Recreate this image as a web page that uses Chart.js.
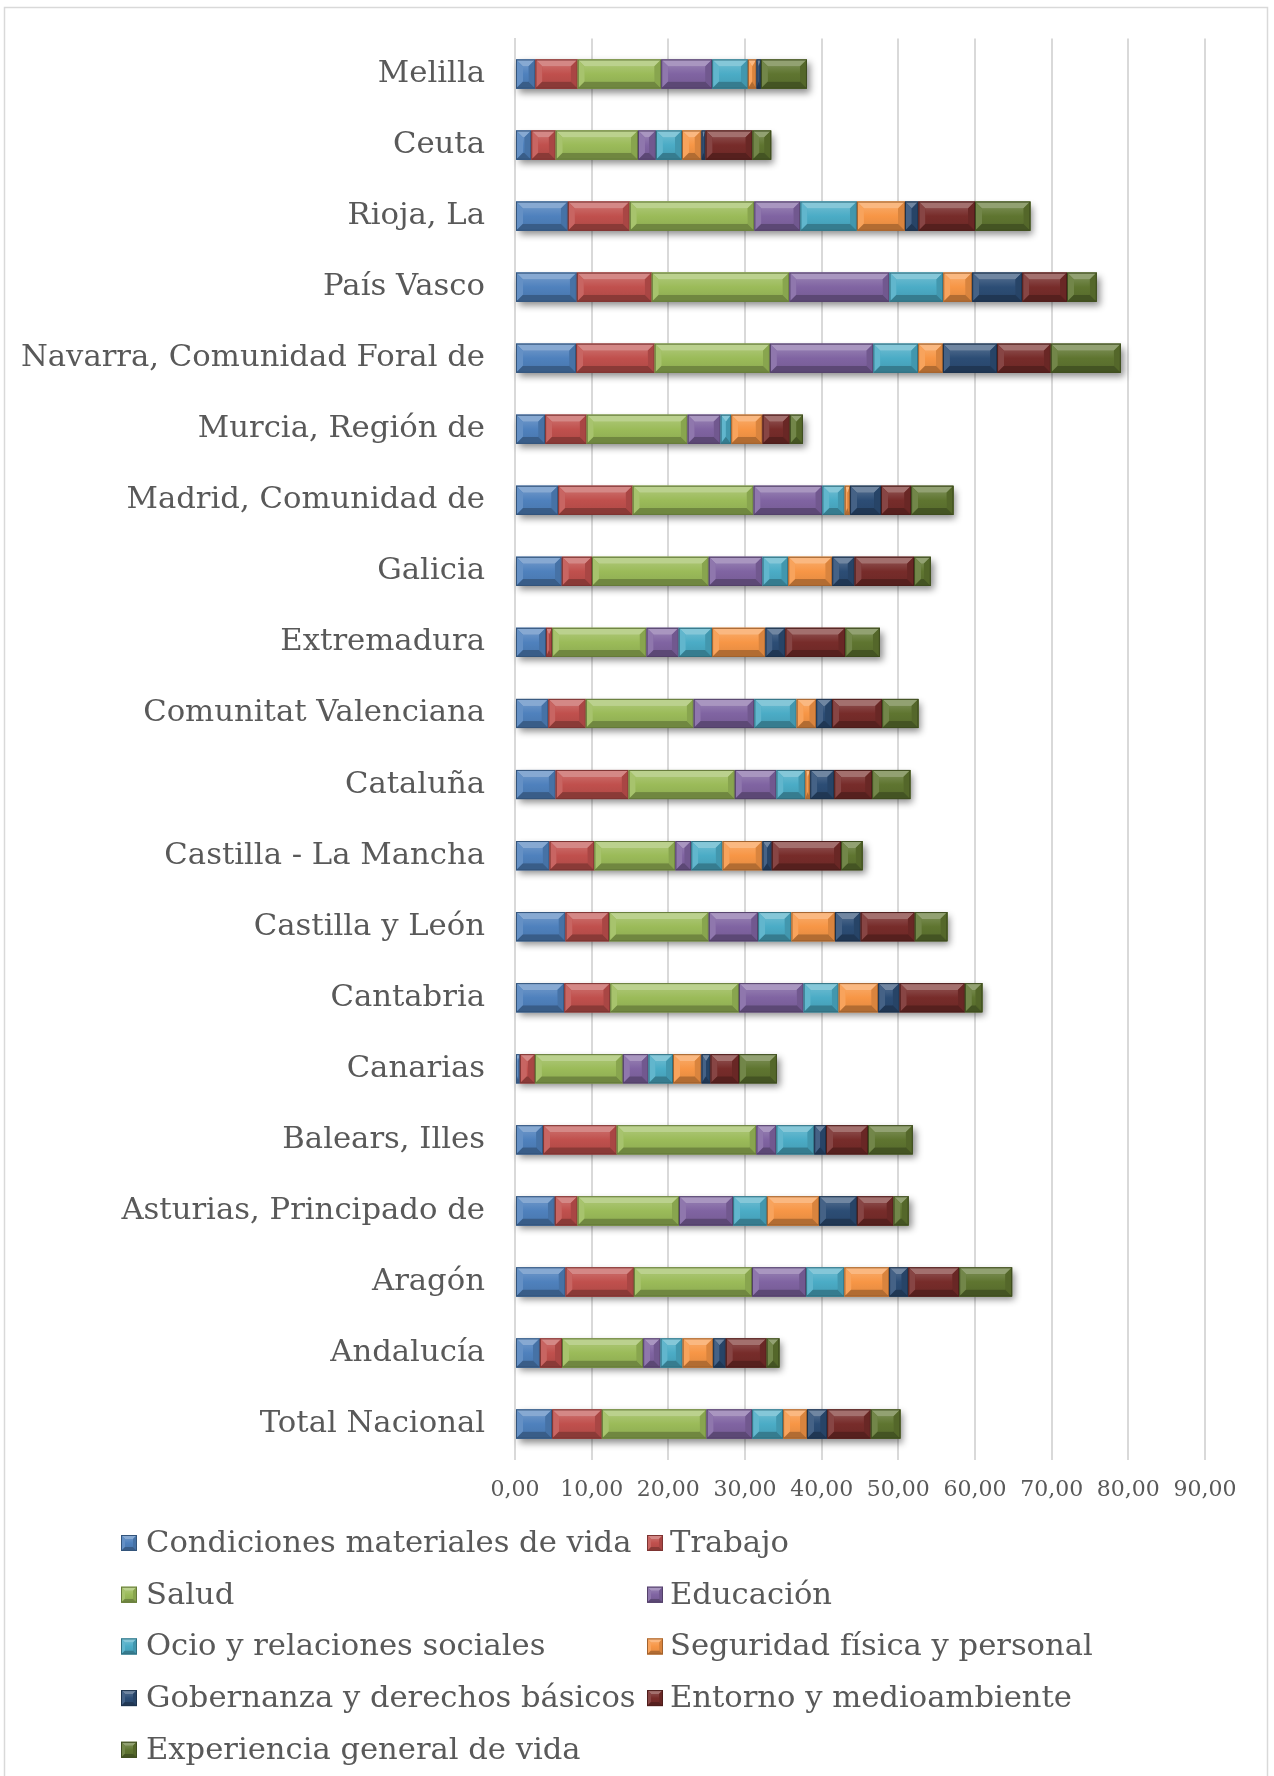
<!DOCTYPE html>
<html><head><meta charset="utf-8">
<script src="https://cdn.jsdelivr.net/npm/chart.js@4.4.1/dist/chart.umd.min.js"></script>
<style>html,body{margin:0;padding:0;background:#fff;}#wrap{position:relative;width:1274px;height:1776px;}</style>
</head><body><div id="wrap"><canvas id="c" width="1274" height="1776"></canvas></div>
<script>
const categories = ['Melilla','Ceuta','Rioja, La','País Vasco','Navarra, Comunidad Foral de','Murcia, Región de','Madrid, Comunidad de','Galicia','Extremadura','Comunitat Valenciana','Cataluña','Castilla - La Mancha','Castilla y León','Cantabria','Canarias','Balears, Illes','Asturias, Principado de','Aragón','Andalucía','Total Nacional'];
const seriesNames = ['Condiciones materiales de vida','Trabajo','Salud','Educación','Ocio y relaciones sociales','Seguridad física y personal','Gobernanza y derechos básicos','Entorno y medioambiente','Experiencia general de vida'];
const condiciones = [2.66,2.12,6.90,8.07,7.97,3.93,5.63,6.11,4.04,4.35,5.31,4.51,6.59,6.43,0.64,3.66,5.20,6.59,3.25,4.84];
const trabajo     = [5.52,3.19,8.07,9.77,10.25,5.42,9.72,3.93,0.80,4.89,9.51,5.84,5.68,6.00,1.96,9.61,2.97,8.92,2.88,6.49];
const salud       = [10.89,10.73,16.25,17.95,15.03,13.17,15.77,15.24,12.32,14.07,13.86,10.57,13.01,16.78,11.47,18.22,13.22,15.40,10.59,13.66];
const educacion   = [6.64,2.34,6.00,13.06,13.49,4.30,8.97,7.01,4.20,7.91,5.42,2.07,6.43,8.44,3.35,2.60,7.06,7.06,2.27,5.94];
const ocio        = [4.67,3.40,7.38,7.01,5.84,1.38,2.92,3.35,4.35,5.52,3.77,4.09,4.35,4.57,3.19,4.94,4.41,4.99,2.88,4.04];
const seguridad   = [1.12,2.55,6.27,3.77,3.24,4.09,0.69,5.74,6.96,2.55,0.64,5.20,5.68,5.15,3.72,0,6.80,5.84,3.98,3.12];
const gobernanza  = [0.58,0.53,1.75,6.53,7.06,0,4.04,2.92,2.60,2.07,3.13,1.22,3.35,2.81,1.17,1.54,4.94,2.50,1.65,2.63];
const entorno     = [0,6.11,7.38,5.84,7.01,3.56,3.93,7.75,7.81,6.53,4.94,9.03,7.06,8.50,3.72,5.47,4.78,6.64,5.33,5.69];
const experiencia = [6.00,2.44,7.22,3.88,9.13,1.70,5.52,2.18,4.51,4.73,4.99,2.81,4.25,2.28,4.94,5.84,1.96,6.90,1.65,3.86];
const xTickLabels = ['0,00','10,00','20,00','30,00','40,00','50,00','60,00','70,00','80,00','90,00'];

const seriesValues = [condiciones,trabajo,salud,educacion,ocio,seguridad,gobernanza,entorno,experiencia];
const colors = ['#4F81BD','#C0504D','#9BBB59','#8064A2','#4BACC6','#F79646','#2C4D75','#772C2A','#5F7530'];
const FONT = "'DejaVu Serif', serif";
const TEXT = '#595959';

function mix(hex, target, t){
  const n = parseInt(hex.slice(1),16);
  const r=(n>>16)&255, g=(n>>8)&255, b=n&255;
  const tv = target==='w'?255:0;
  return 'rgb('+Math.round(r+(tv-r)*t)+','+Math.round(g+(tv-g)*t)+','+Math.round(b+(tv-b)*t)+')';
}
function bevelRect(ctx, l, t, w, h, col, bv){
  const r = l + w, btm = t + h;
  const bx = Math.min(bv, w/2), by = Math.min(bv, h/2);
  ctx.fillStyle = col; ctx.fillRect(l, t, w, h);
  const poly = (pts, c) => { ctx.beginPath(); ctx.moveTo(pts[0][0],pts[0][1]); for (let i=1;i<pts.length;i++) ctx.lineTo(pts[i][0],pts[i][1]); ctx.closePath(); ctx.fillStyle=c; ctx.fill(); };
  poly([[l,t],[r,t],[r-bx,t+by],[l+bx,t+by]], mix(col,'w',0.32));
  poly([[l,t],[l+bx,t+by],[l+bx,btm-by],[l,btm]], mix(col,'w',0.12));
  poly([[r,t],[r,btm],[r-bx,btm-by],[r-bx,t+by]], mix(col,'k',0.12));
  poly([[l,btm],[l+bx,btm-by],[r-bx,btm-by],[r,btm]], mix(col,'k',0.28));
  const g = ctx.createLinearGradient(0, t+by, 0, btm-by);
  g.addColorStop(0, mix(col,'w',0.12)); g.addColorStop(0.5, col); g.addColorStop(1, mix(col,'k',0.05));
  ctx.fillStyle = g; ctx.fillRect(l+bx, t+by, w-2*bx, h-2*by);
  ctx.strokeStyle = mix(col,'k',0.35); ctx.lineWidth = 1;
  ctx.strokeRect(l+0.5, t+0.5, Math.max(w-1,0), h-1);
}

const framePlugin = {
  id: 'frame',
  beforeDraw(chart){
    const ctx = chart.ctx; ctx.save();
    ctx.fillStyle = '#fff'; ctx.fillRect(0,0,chart.width,chart.height);
    ctx.strokeStyle = '#d9d9d9'; ctx.lineWidth = 1.5;
    ctx.strokeRect(4.5, 7.5, 1263, 1775);
    ctx.restore();
  }
};
const shadowPlugin = {
  id: 'shadow',
  beforeDatasetsDraw(chart){
    const ctx = chart.ctx; ctx.save();
    const n = chart.data.labels.length;
    for (let i=0;i<n;i++){
      let lo = Infinity, hi = -Infinity, yc = 0, hh = 0;
      chart.data.datasets.forEach((ds, d) => {
        const el = chart.getDatasetMeta(d).data[i]; if (!el) return;
        const p = el.getProps(['x','y','base','height'], true);
        lo = Math.min(lo, p.base, p.x); hi = Math.max(hi, p.base, p.x); yc = p.y; hh = p.height;
      });
      ctx.shadowColor = 'rgba(0,0,0,0.45)'; ctx.shadowBlur = 7; ctx.shadowOffsetX = 3; ctx.shadowOffsetY = 4;
      ctx.fillStyle = '#666';
      ctx.fillRect(lo, yc - hh/2, hi - lo, hh);
    }
    ctx.restore();
  }
};
const bevelPlugin = {
  id: 'bevel',
  afterDatasetsDraw(chart){
    const ctx = chart.ctx; ctx.save();
    chart.data.datasets.forEach((ds, d) => {
      chart.getDatasetMeta(d).data.forEach(el => {
        const p = el.getProps(['x','y','base','height'], true);
        const l = Math.min(p.base, p.x), w = Math.abs(p.x - p.base);
        if (w < 0.5) return;
        bevelRect(ctx, l, p.y - p.height/2, w, p.height, ds.backgroundColor, 7);
      });
    });
    ctx.restore();
  }
};
const legendPlugin = {
  id: 'gridLegend',
  afterDraw(chart){
    const ctx = chart.ctx; ctx.save();
    ctx.font = '30.6px ' + FONT; ctx.textBaseline = 'middle'; ctx.textAlign = 'left';
    chart.data.datasets.forEach((ds, i) => {
      const col = i % 2, row = Math.floor(i / 2);
      const mx = col === 0 ? 121 : 647, tx = col === 0 ? 146 : 670;
      const yc = 1543 + row * 51.7;
      bevelRect(ctx, mx, yc - 8, 16, 16, ds.backgroundColor, 4);
      ctx.fillStyle = TEXT;
      ctx.fillText(ds.label, tx, yc + 1);
    });
    ctx.restore();
  }
};

new Chart(document.getElementById('c'), {
  type: 'bar',
  data: {
    labels: categories,
    datasets: seriesNames.map((name, i) => ({
      label: name, data: seriesValues[i], backgroundColor: colors[i], borderWidth: 0,
      barPercentage: 0.41, categoryPercentage: 1
    }))
  },
  options: {
    responsive: false, animation: false, indexAxis: 'y',
    layout: { padding: { left: 0, right: 69, top: 38.5, bottom: 266.5 } },
    plugins: { legend: { display: false }, tooltip: { enabled: false } },
    scales: {
      x: {
        stacked: true, min: 0, max: 90,
        ticks: { stepSize: 10, autoSkip: false, maxRotation: 0, padding: 18, color: TEXT,
          font: { family: FONT, size: 22 }, callback: (v, i) => xTickLabels[i] },
        grid: { color: '#d9d9d9', lineWidth: 2, drawTicks: false },
        border: { display: false },
        afterFit: s => { s.height = 50; }
      },
      y: {
        stacked: true,
        ticks: { padding: 14, color: TEXT, font: { family: FONT, size: 30.7 } },
        grid: { display: false, drawTicks: true, tickLength: 16, color: 'rgba(0,0,0,0)' },
        border: { display: true, color: '#d9d9d9', width: 2 },
        afterFit: s => { s.width = 515; }
      }
    }
  },
  plugins: [framePlugin, shadowPlugin, bevelPlugin, legendPlugin]
});
</script></body></html>
